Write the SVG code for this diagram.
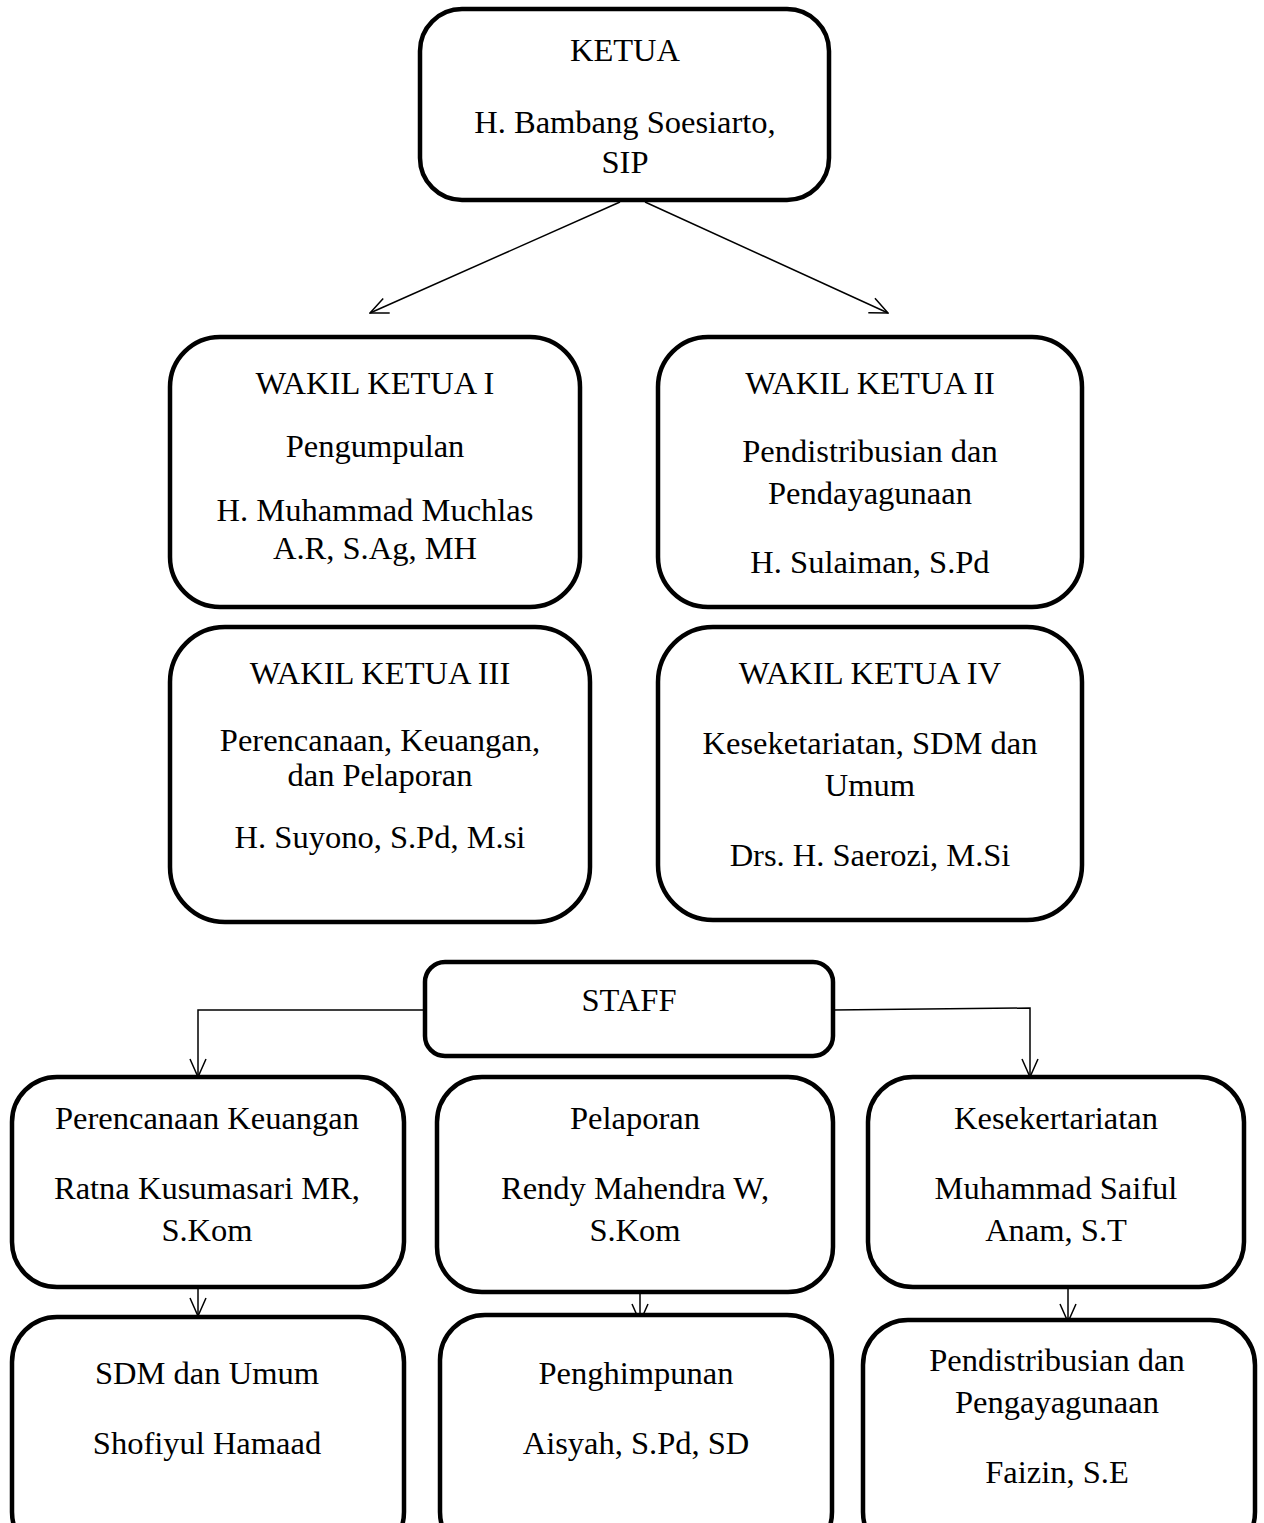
<svg xmlns="http://www.w3.org/2000/svg" width="1264" height="1523" viewBox="0 0 1264 1523">
<style>
.box{fill:#fff;stroke:#000;stroke-width:4.5}
.t{font-family:"Liberation Serif","Times New Roman",serif;font-size:32.5px;fill:#000;text-anchor:middle}
.c{fill:none;stroke:#000;stroke-width:1.5}
</style>
<defs>
<marker id="ah" viewBox="0 0 20 20" refX="19" refY="10" markerWidth="20" markerHeight="20" markerUnits="userSpaceOnUse" orient="auto">
<path d="M1,2 L19,10 L1,18" fill="none" stroke="#000" stroke-width="1.5"/>
</marker>
</defs>
<rect width="1264" height="1523" fill="#fff"/>
<g id="connectors">
<line class="c" x1="620" y1="202" x2="370" y2="313" marker-end="url(#ah)"/>
<line class="c" x1="645" y1="202" x2="888" y2="313" marker-end="url(#ah)"/>
<polyline class="c" points="425,1010 198,1010 198,1077" marker-end="url(#ah)"/>
<polyline class="c" points="833,1010 1030,1008 1030,1077" marker-end="url(#ah)"/>
<line class="c" x1="198" y1="1287" x2="198" y2="1316" marker-end="url(#ah)"/>
<line class="c" x1="640" y1="1292" x2="640" y2="1322" marker-end="url(#ah)"/>
<line class="c" x1="1068" y1="1287" x2="1068" y2="1322" marker-end="url(#ah)"/>
</g>
<g id="ketua">
<rect class="box" x="420" y="9" width="409" height="191" rx="42"/>
<text class="t" x="625" y="61">KETUA</text>
<text class="t" x="625" y="133">H. Bambang Soesiarto,</text>
<text class="t" x="625" y="173">SIP</text>
</g>
<g id="wakil1">
<rect class="box" x="170" y="337" width="410" height="270" rx="50"/>
<text class="t" x="375" y="394">WAKIL KETUA I</text>
<text class="t" x="375" y="457">Pengumpulan</text>
<text class="t" x="375" y="521">H. Muhammad Muchlas</text>
<text class="t" x="375" y="559">A.R, S.Ag, MH</text>
</g>
<g id="wakil2">
<rect class="box" x="658" y="337" width="424" height="270" rx="50"/>
<text class="t" x="870" y="394">WAKIL KETUA II</text>
<text class="t" x="870" y="462">Pendistribusian dan</text>
<text class="t" x="870" y="504">Pendayagunaan</text>
<text class="t" x="870" y="573">H. Sulaiman, S.Pd</text>
</g>
<g id="wakil3">
<rect class="box" x="170" y="627" width="420" height="295" rx="55"/>
<text class="t" x="380" y="684">WAKIL KETUA III</text>
<text class="t" x="380" y="751">Perencanaan, Keuangan,</text>
<text class="t" x="380" y="786">dan Pelaporan</text>
<text class="t" x="380" y="848">H. Suyono, S.Pd, M.si</text>
</g>
<g id="wakil4">
<rect class="box" x="658" y="627" width="424" height="293" rx="55"/>
<text class="t" x="870" y="684">WAKIL KETUA IV</text>
<text class="t" x="870" y="754">Keseketariatan, SDM dan</text>
<text class="t" x="870" y="796">Umum</text>
<text class="t" x="870" y="866">Drs. H. Saerozi, M.Si</text>
</g>
<g id="staff">
<rect class="box" x="425" y="962" width="408" height="94" rx="20"/>
<text class="t" x="629" y="1011">STAFF</text>
</g>
<g id="perencanaan">
<rect class="box" x="12" y="1077" width="392" height="210" rx="45"/>
<text class="t" x="207" y="1129">Perencanaan Keuangan</text>
<text class="t" x="207" y="1199">Ratna Kusumasari MR,</text>
<text class="t" x="207" y="1241">S.Kom</text>
</g>
<g id="pelaporan">
<rect class="box" x="437" y="1077" width="396" height="215" rx="45"/>
<text class="t" x="635" y="1129">Pelaporan</text>
<text class="t" x="635" y="1199">Rendy Mahendra W,</text>
<text class="t" x="635" y="1241">S.Kom</text>
</g>
<g id="kesekertariatan">
<rect class="box" x="868" y="1077" width="376" height="210" rx="45"/>
<text class="t" x="1056" y="1129">Kesekertariatan</text>
<text class="t" x="1056" y="1199">Muhammad Saiful</text>
<text class="t" x="1056" y="1241">Anam, S.T</text>
</g>
<g id="sdm">
<rect class="box" x="12" y="1317" width="392" height="240" rx="45"/>
<text class="t" x="207" y="1384">SDM dan Umum</text>
<text class="t" x="207" y="1454">Shofiyul Hamaad</text>
</g>
<g id="penghimpunan">
<rect class="box" x="440" y="1315" width="392" height="242" rx="45"/>
<text class="t" x="636" y="1384">Penghimpunan</text>
<text class="t" x="636" y="1454">Aisyah, S.Pd, SD</text>
</g>
<g id="pendistribusian">
<rect class="box" x="863" y="1320" width="392" height="237" rx="45"/>
<text class="t" x="1057" y="1371">Pendistribusian dan</text>
<text class="t" x="1057" y="1413">Pengayagunaan</text>
<text class="t" x="1057" y="1483">Faizin, S.E</text>
</g>
</svg>
